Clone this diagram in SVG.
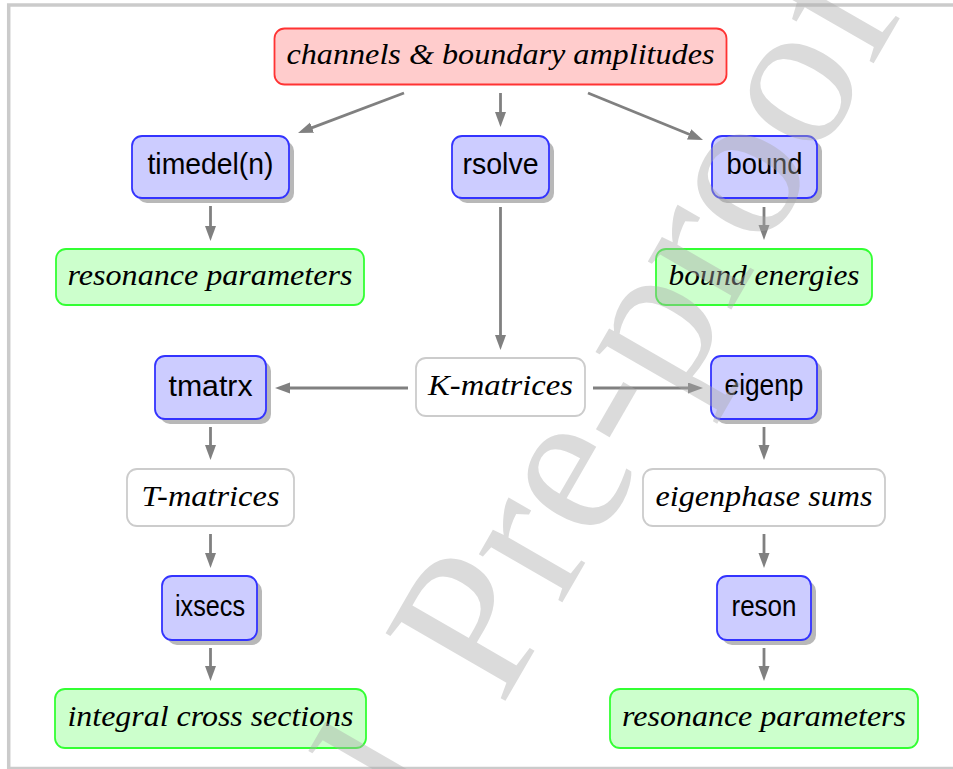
<svg xmlns="http://www.w3.org/2000/svg" width="953" height="769" viewBox="0 0 953 769">
<defs>
<style>
.shadow{fill:#b8b8b8}
.blue{fill:#ccccff;stroke:#3333ff;stroke-width:1.8}
.green{fill:#ccffcc;stroke:#33ff33;stroke-width:1.8}
.red{fill:#ffcccc;stroke:#ff3333;stroke-width:1.8}
.white{fill:#ffffff;stroke:#cccccc;stroke-width:1.8}
.ts{font-family:"Liberation Sans",Arial,sans-serif;font-size:29px;text-anchor:middle;fill:#000}
.ti{font-family:"Liberation Serif","Times New Roman",serif;font-style:italic;font-size:30px;text-anchor:middle;fill:#000}
.edge{stroke:#808080;stroke-width:2.8;fill:none;marker-end:url(#ah)}
</style>
<marker id="ah" markerUnits="userSpaceOnUse" markerWidth="16" markerHeight="12" viewBox="0 0 16 12" refX="4" refY="5.5" orient="auto">
<path d="M0,0 L15,5.5 L0,11 z" fill="#808080"/>
</marker>
</defs>
<rect x="0" y="0" width="953" height="769" fill="#ffffff"/>
<rect x="8.7" y="5" width="960" height="763.5" fill="none" stroke="#cbcbcb" stroke-width="3.5"/>

<g id="connectors">
<path class="edge" d="M404,93 L308.3,129.1"/>
<path class="edge" d="M500.5,93 L500.5,116"/>
<path class="edge" d="M588,93 L692.8,135.8"/>
<path class="edge" d="M210.5,206 L210.5,230"/>
<path class="edge" d="M500.5,207 L500.5,339"/>
<path class="edge" d="M764,207 L764,229"/>
<path class="edge" d="M408,388 L286,388"/>
<path class="edge" d="M593,388 L692,388"/>
<path class="edge" d="M210.5,427 L210.5,449"/>
<path class="edge" d="M764,427 L764,449"/>
<path class="edge" d="M210.5,534 L210.5,557"/>
<path class="edge" d="M764,534 L764,557"/>
<path class="edge" d="M210.5,648 L210.5,670"/>
<path class="edge" d="M764,648 L764,670"/>
</g>

<g id="channels">
<rect class="red" x="274.5" y="28.5" width="452" height="56" rx="10"/>
<text class="ti" x="500.5" y="63.5" textLength="428" lengthAdjust="spacingAndGlyphs">channels &amp; boundary amplitudes</text>
</g>

<g id="timedel">
<rect class="shadow" x="137" y="141" width="157" height="62" rx="10"/>
<rect class="blue" x="132" y="136" width="157" height="62" rx="10"/>
<text class="ts" x="210.5" y="174" textLength="126" lengthAdjust="spacingAndGlyphs">timedel(n)</text>
</g>

<g id="rsolve">
<rect class="shadow" x="457" y="141" width="97" height="62" rx="10"/>
<rect class="blue" x="452" y="136" width="97" height="62" rx="10"/>
<text class="ts" x="500.5" y="174" textLength="76" lengthAdjust="spacingAndGlyphs">rsolve</text>
</g>

<g id="bound">
<rect class="shadow" x="717" y="141" width="105" height="62" rx="10"/>
<rect class="blue" x="712" y="136" width="105" height="62" rx="10"/>
<text class="ts" x="764.5" y="174" textLength="76" lengthAdjust="spacingAndGlyphs">bound</text>
</g>

<g id="resonance-left">
<rect class="green" x="56" y="249" width="308" height="56" rx="10"/>
<text class="ti" x="210" y="284.5" textLength="285" lengthAdjust="spacingAndGlyphs">resonance parameters</text>
</g>

<g id="bound-energies">
<rect class="green" x="656" y="249" width="216" height="56" rx="10"/>
<text class="ti" x="764" y="284.5" textLength="191" lengthAdjust="spacingAndGlyphs">bound energies</text>
</g>

<g id="tmatrx">
<rect class="shadow" x="160" y="361" width="111" height="63" rx="10"/>
<rect class="blue" x="155" y="356" width="111" height="63" rx="10"/>
<text class="ts" x="210.5" y="395.5" textLength="84" lengthAdjust="spacingAndGlyphs">tmatrx</text>
</g>

<g id="kmatrices">
<rect class="white" x="416" y="358" width="169" height="58" rx="10"/>
<text class="ti" x="500.5" y="395" textLength="145" lengthAdjust="spacingAndGlyphs">K-matrices</text>
</g>

<g id="eigenp">
<rect class="shadow" x="716" y="361" width="106" height="63" rx="10"/>
<rect class="blue" x="711" y="356" width="106" height="63" rx="10"/>
<text class="ts" x="764" y="395" textLength="79" lengthAdjust="spacingAndGlyphs">eigenp</text>
</g>

<g id="tmatrices">
<rect class="white" x="127" y="469" width="167" height="57" rx="10"/>
<text class="ti" x="210.5" y="505.5" textLength="138" lengthAdjust="spacingAndGlyphs">T-matrices</text>
</g>

<g id="eigenphase">
<rect class="white" x="643" y="469" width="242" height="57" rx="10"/>
<text class="ti" x="764" y="505.5" textLength="217" lengthAdjust="spacingAndGlyphs">eigenphase sums</text>
</g>

<g id="ixsecs">
<rect class="shadow" x="167" y="581" width="95" height="64" rx="10"/>
<rect class="blue" x="162" y="576" width="95" height="64" rx="10"/>
<text class="ts" x="210" y="616" textLength="70" lengthAdjust="spacingAndGlyphs">ixsecs</text>
</g>

<g id="reson">
<rect class="shadow" x="722" y="581" width="94" height="64" rx="10"/>
<rect class="blue" x="717" y="576" width="94" height="64" rx="10"/>
<text class="ts" x="764" y="616" textLength="65" lengthAdjust="spacingAndGlyphs">reson</text>
</g>

<g id="integral">
<rect class="green" x="55" y="689" width="311" height="59" rx="10"/>
<text class="ti" x="210.5" y="726" textLength="286" lengthAdjust="spacingAndGlyphs">integral cross sections</text>
</g>

<g id="resonance-right">
<rect class="green" x="610" y="689" width="308" height="59" rx="10"/>
<text class="ti" x="764" y="726" textLength="284" lengthAdjust="spacingAndGlyphs">resonance parameters</text>
</g>

<g id="watermark" transform="translate(502,707) rotate(-60)">
<text x="-699" y="0" font-family="Liberation Serif,'Times New Roman',serif" font-size="210" word-spacing="28" fill="#aaaaaa" opacity="0.42">Journal Pre-proof</text>
</g>
</svg>
